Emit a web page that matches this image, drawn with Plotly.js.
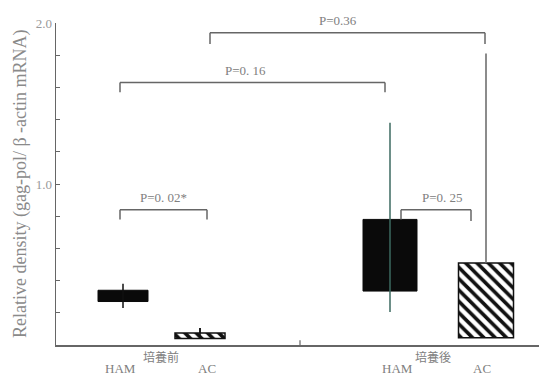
<!DOCTYPE html>
<html>
<head>
<meta charset="utf-8">
<script src="https://cdn.plot.ly/plotly-3.0.1.min.js"></script>
<style>html,body{margin:0;padding:0;background:#fff;}#chart{width:539px;height:375px;}</style>
</head>
<body>
<div id="chart"></div>
<script>
// ---- data ----
const groups = ['培養前', '培養前', '培養後', '培養後'];
const cells = ['HAM', 'AC', 'HAM', 'AC'];
const boxLow = [0.27, 0.04, 0.335, 0.045];
const boxHigh = [0.34, 0.075, 0.78, 0.51];
const whiskerLow = [0.23, 0.075, 0.205, 0.51];
const whiskerHigh = [0.38, 0.105, 1.38, 1.81];
const pLabels = ['P=0. 02*', 'P=0. 25', 'P=0. 16', 'P=0.36'];
const pPairs = [[0, 1], [2, 3], [0, 2], [1, 3]];
const pHeights = [0.84, 0.84, 1.63, 1.94];
const yTicks = [0, 0.2, 0.4, 0.6, 0.8, 1.0, 1.2, 1.4, 1.6, 1.8, 2.0];
const yTickText = ['', '', '', '', '', '1.0', '', '', '', '', '2.0'];

// ---- layout / style (not data) ----
const xPos = [123, 200, 390, 486];
const barWidth = [50, 50, 54, 55];
const bracketOff = [[-3, 7], [11, -15], [-3, -5], [10, -1]];
const labelOff = [0, 6, -7, -10];
const legLen = [[0.06, 0.06], [0.06, 0.07], [0.06, 0.06], [0.07, 0.07]];
const whiskerColor = ['#111', '#111', '#3d6a60', '#666'];
const lineColor = '#666';
const textColor = '#808080';
const font = 'Liberation Serif, Times New Roman, serif';

const solidIdx = [0, 2], hatchIdx = [1, 3];
const traces = [];
traces.push({
  type: 'bar', x: solidIdx.map(i => xPos[i]), y: solidIdx.map(i => boxHigh[i] - boxLow[i]),
  base: solidIdx.map(i => boxLow[i]), width: solidIdx.map(i => barWidth[i]),
  marker: {color: '#0a0a0a', line: {color: '#0a0a0a', width: 1}}, hoverinfo: 'skip'
});
whiskerLow.forEach((lo, i) => {
  traces.push({
    type: 'scatter', mode: 'lines', x: [xPos[i], xPos[i]], y: [lo, whiskerHigh[i]],
    line: {color: whiskerColor[i], width: 1.5}, hoverinfo: 'skip'
  });
});
traces.push({
  type: 'bar', x: hatchIdx.map(i => xPos[i]), y: hatchIdx.map(i => boxHigh[i] - boxLow[i]),
  base: hatchIdx.map(i => boxLow[i]), width: hatchIdx.map(i => barWidth[i]),
  marker: {color: '#ffffff', line: {color: '#111', width: 1.5},
    pattern: {shape: '\\', fgcolor: '#111', bgcolor: '#fff', size: 8, solidity: 0.45}},
  hoverinfo: 'skip'
});
traces.push({
  type: 'scatter', mode: 'lines', x: [xPos[1], xPos[1]], y: [boxLow[1], whiskerHigh[1]],
  line: {color: '#111', width: 1.5}, hoverinfo: 'skip'
});

const shapes = [];
const annotations = [];
pPairs.forEach((pr, k) => {
  const x0 = xPos[pr[0]] + bracketOff[k][0];
  const x1 = xPos[pr[1]] + bracketOff[k][1];
  const h = pHeights[k];
  const ln = {color: lineColor, width: 1.5};
  shapes.push({type: 'line', xref: 'x', yref: 'y', x0: x0, x1: x1, y0: h, y1: h, line: ln});
  shapes.push({type: 'line', xref: 'x', yref: 'y', x0: x0, x1: x0, y0: h, y1: h - legLen[k][0], line: ln});
  shapes.push({type: 'line', xref: 'x', yref: 'y', x0: x1, x1: x1, y0: h, y1: h - legLen[k][1], line: ln});
  annotations.push({xref: 'x', yref: 'y', x: (x0 + x1) / 2 + labelOff[k], y: h, yanchor: 'bottom', yshift: 3,
    text: pLabels[k], showarrow: false, font: {family: font, size: 13, color: textColor}});
});
shapes.push({type: 'line', xref: 'x', yref: 'y', x0: 300, x1: 300, y0: 0, y1: 0.03, line: {color: lineColor, width: 1.2}});

const cellOff = [-3, 7, 7, -4];
cells.forEach((c, i) => {
  annotations.push({xref: 'x', yref: 'paper', x: xPos[i] + cellOff[i], y: 0, yanchor: 'middle', yshift: -23,
    text: c, showarrow: false, font: {family: font, size: 13, color: textColor}});
});
[[0, 1], [2, 3]].forEach(pr => {
  annotations.push({xref: 'x', yref: 'paper', x: (xPos[pr[0]] + xPos[pr[1]]) / 2 + (pr[0] === 0 ? -1 : -5), y: 0, yanchor: 'middle', yshift: -11,
    text: groups[pr[0]], showarrow: false, font: {family: 'Noto Sans CJK JP, serif', size: 12, color: textColor}});
});
annotations.push({xref: 'paper', yref: 'paper', x: 0, xshift: -36, xanchor: 'center', y: 0.5, yanchor: 'middle', textangle: -90,
  text: 'Relative density (gag-pol/ β -actin mRNA)', showarrow: false,
  font: {family: font, size: 18, color: '#8a8a8a'}});

const layout = {
  width: 539, height: 375,
  margin: {l: 56, r: 0, t: 23, b: 30},
  paper_bgcolor: '#fff', plot_bgcolor: '#fff',
  showlegend: false, barmode: 'overlay',
  xaxis: {range: [56, 539], showgrid: false, zeroline: false, showline: true, linecolor: lineColor, linewidth: 1.5,
    showticklabels: false, ticks: '', fixedrange: true},
  yaxis: {range: [0, 2.0], showgrid: false, zeroline: false, showline: true, linecolor: lineColor, linewidth: 1.5,
    tickvals: yTicks, ticktext: yTickText, ticks: 'inside', ticklen: 4, tickcolor: lineColor,
    tickfont: {family: font, size: 13, color: '#999'}, fixedrange: true},
  shapes: shapes, annotations: annotations
};
Plotly.newPlot('chart', traces, layout, {displayModeBar: false, staticPlot: true});
</script>
</body>
</html>
